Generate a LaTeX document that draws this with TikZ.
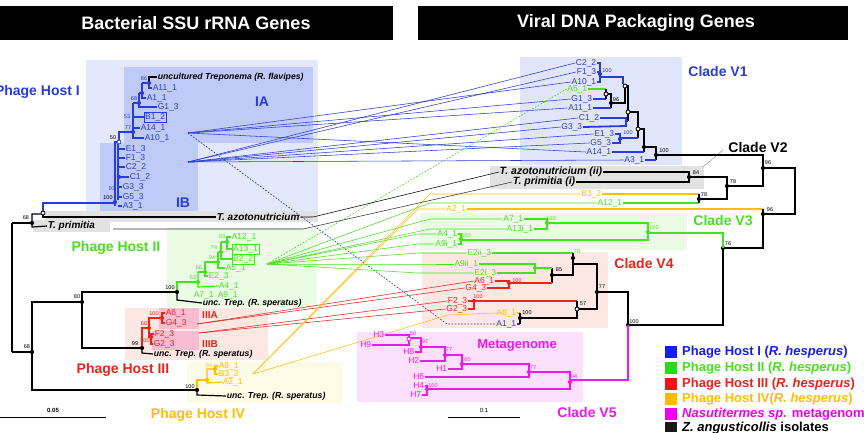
\documentclass[tikz,border=0pt]{standalone}
\usepackage{fontspec}
\setmainfont{Liberation Sans}
\pgfdeclarelayer{bg}\pgfdeclarelayer{mid}\pgfsetlayers{bg,mid,main}
\definecolor{cblue}{RGB}{40,60,220}
\definecolor{cgreen}{RGB}{70,225,30}
\definecolor{cred}{RGB}{235,35,25}
\definecolor{corange}{RGB}{255,190,0}
\definecolor{cmag}{RGB}{235,25,235}
\definecolor{bgbA}{RGB}{228,232,252}
\definecolor{bgbB}{RGB}{192,202,248}
\definecolor{bgv}{RGB}{224,229,252}
\definecolor{bggray}{RGB}{226,226,226}
\definecolor{bggreen}{RGB}{234,252,228}
\definecolor{bgred}{RGB}{252,231,226}
\definecolor{bgpink}{RGB}{250,188,208}
\definecolor{bgyel}{RGB}{253,250,230}
\definecolor{bgmag}{RGB}{252,224,252}
\definecolor{lgblue}{RGB}{20,30,240}
\definecolor{lggreen}{RGB}{40,220,20}
\definecolor{lgred}{RGB}{240,20,20}
\definecolor{lgorange}{RGB}{255,185,0}
\definecolor{lgmag}{RGB}{240,0,240}
\newcommand\supn[4]{\node[supl,text=#1] (#2) at (#3) {#4};}
\newcommand\bldot[2]{\fill[#1] (#2) circle (2.1pt);}
\newcommand\opdot[2]{\filldraw[fill=white,draw=#1,line width=0.8pt] (#2) circle (2pt);}
\begin{document}
\begin{tikzpicture}[x=1pt,y=-1pt,
 tip/.style={font=\fontsize{8.5}{9}\selectfont, inner sep=0.6pt},
 supl/.style={font=\fontsize{5.5}{6}\selectfont, inner sep=0pt},
 spec/.style={font=\bfseries\itshape\fontsize{8.7}{9}\selectfont, inner sep=0.6pt},
 clade/.style={font=\bfseries\fontsize{14}{14}\selectfont, inner sep=0pt},
 boxed/.style={draw, line width=0.35pt, inner sep=1pt},
 br/.style={line width=1.2pt},
 brt/.style={line width=1.8pt},
 conn/.style={line width=0.55pt},
 legt/.style={font=\bfseries\fontsize{13}{13}\selectfont, anchor=west, inner sep=0pt},
]
\useasboundingbox (0,0) rectangle (864,432);
\begin{pgfonlayer}{bg}
\fill[white] (0,0) rectangle (864,432);
\fill[black] (0,6) rectangle (393,40);
\fill[black] (418,6) rectangle (848,40);
\fill[bgbA] (86,60) rectangle (318,211);
\fill[bgbB] (124,67) rectangle (313,143);
\fill[bgbB] (100,143) rectangle (198,211);
\fill[bggray] (45,211) rectangle (318,222);
\fill[bggray] (33,220) rectangle (110,232);
\fill[bggreen] (167,228) rectangle (317,307);
\fill[bgred] (125,308) rectangle (268,360);
\fill[bgpink] (159,308) rectangle (199,329);
\fill[bgpink] (152,331) rectangle (199,350);
\fill[bgyel] (187,362) rectangle (343,403);
\fill[bgv] (520,57) rectangle (682,165);
\fill[bggray] (490,166) rectangle (704,189);
\fill[bggreen] (420,213) rectangle (687,250);
\fill[bgred] (422,252) rectangle (608,328);
\fill[bgmag] (357,332) rectangle (583,402);
\end{pgfonlayer}

% titles
\node[font=\bfseries\fontsize{18}{18}\selectfont, text=white] (t1) at (196,23) {Bacterial SSU rRNA Genes};
\node[font=\bfseries\fontsize{18}{18}\selectfont, text=white] (t2) at (636,23) {Viral DNA Packaging Genes};

% clade labels
\node[clade, text=cblue, anchor=east] (lh1) at (80,92) {Phage Host I};
\node[clade, text=cblue] (lIA) at (262,102) {IA};
\node[clade, text=cblue] (lIB) at (183,203) {IB};
\node[clade, text=cgreen] (lh2) at (116,248) {Phage Host II};
\node[clade, text=cred] (lh3) at (123,370) {Phage Host III};
\node[clade, text=corange] (lh4) at (198,415) {Phage Host IV};
\node[font=\bfseries\fontsize{10}{10}\selectfont, text=cred, inner sep=0pt] (l3a) at (210,315) {IIIA};
\node[font=\bfseries\fontsize{10}{10}\selectfont, text=cred, inner sep=0pt] (l3b) at (210,344) {IIIB};
\node[clade, text=cblue] (lv1) at (718,71) {Clade V1};
\node[clade] (lv2) at (758,147) {Clade V2};
\node[clade, text=cgreen] (lv3) at (723,220) {Clade V3};
\node[clade, text=cred] (lv4) at (644,263) {Clade V4};
\node[clade, text=cmag] (lv5) at (587,412) {Clade V5};
\node[font=\bfseries\fontsize{13}{13}\selectfont, text=cmag, inner sep=0pt] (lmeta) at (517,345) {Metagenome};
\coordinate (ldA) at (723,150); \coordinate (ldB) at (703,167);
\draw[gray, line width=0.4pt] (ldA) -- (ldB);

% ---------- left tips ----------
\node[spec, anchor=west] (lunc) at (157,77) {uncultured Treponema (R. flavipes)};
\node[tip,text=cblue,anchor=west] (lA111) at (152,88) {A11\_1};
\node[tip,text=cblue,anchor=west] (lA11) at (146,98) {A1\_1};
\node[tip,text=cblue,anchor=west] (lG13) at (157,107) {G1\_3};
\node[tip,text=cblue,anchor=west,boxed,draw=cblue] (lB12) at (144,117) {B1\_2};
\node[tip,text=cblue,anchor=west] (lA141) at (140,128) {A14\_1};
\node[tip,text=cblue,anchor=west] (lA101) at (144,138) {A10\_1};
\node[tip,text=cblue,anchor=west] (lE13) at (125,149) {E1\_3};
\node[tip,text=cblue,anchor=west] (lF13) at (125,158) {F1\_3};
\node[tip,text=cblue,anchor=west] (lC22) at (125,167) {C2\_2};
\node[tip,text=cblue,anchor=west] (lC12) at (129,177) {C1\_2};
\node[tip,text=cblue,anchor=west] (lG33) at (122,187) {G3\_3};
\node[tip,text=cblue,anchor=west] (lG53) at (122,197) {G5\_3};
\node[tip,text=cblue,anchor=west] (lA31) at (122,206) {A3\_1};
\node[spec, font=\bfseries\itshape\fontsize{10}{10}\selectfont, anchor=west] (ltazo) at (216,217) {T. azotonutricium};
\node[spec, font=\bfseries\itshape\fontsize{10}{10}\selectfont, anchor=west] (ltpri) at (47,226) {T. primitia};
\node[tip,text=cgreen,anchor=west] (lA121) at (231,237) {A12\_1};
\node[tip,text=cgreen,anchor=west,boxed,draw=cgreen] (lA131) at (232,249) {A13\_1};
\node[tip,text=cgreen,anchor=west,boxed,draw=cgreen] (lB22) at (232,259) {B2\_2};
\node[tip,text=cgreen,anchor=west] (lA51) at (225,268) {A5\_1};
\node[tip,text=cgreen,anchor=west] (lE23) at (208,276) {E2\_3};
\node[tip,text=cgreen,anchor=west] (lA41) at (218,286) {A4\_1};
\node[tip,text=cgreen,anchor=west] (lA71) at (193,295) {A7\_1};
\node[tip,text=cgreen,anchor=west] (lA91) at (217,295) {A9\_1};
\node[spec, anchor=west] (ltrep2) at (202,303) {unc. Trep. (R. speratus)};
\node[tip,text=cred,anchor=west] (lA61) at (165,313) {A6\_1};
\node[tip,text=cred,anchor=west] (lG43) at (165,323) {G4\_3};
\node[tip,text=cred,anchor=west] (lF23) at (154,334) {F2\_3};
\node[tip,text=cred,anchor=west] (lG23) at (153,344) {G2\_3};
\node[spec, anchor=west] (ltrep3) at (153,354) {unc. Trep. (R. speratus)};
\node[tip,text=corange,anchor=west] (lA81) at (218,366) {A8\_1};
\node[tip,text=corange,anchor=west] (lB32) at (218,374) {B3\_2};
\node[tip,text=corange,anchor=west] (lA21) at (222,382) {A2\_1};
\node[spec, anchor=west] (ltrep4) at (226,396) {unc. Trep. (R. speratus)};

% ---------- right tips ----------
\node[tip,text=cblue,anchor=east] (rC22) at (597,63) {C2\_2};
\node[tip,text=cblue,anchor=east] (rF13) at (597,72) {F1\_3};
\node[tip,text=cblue,anchor=east] (rA101) at (597,82) {A10\_1};
\node[tip,text=cgreen,anchor=east] (rA51) at (588,89) {A5\_1};
\node[tip,text=cblue,anchor=east] (rG13) at (593,99) {G1\_3};
\node[tip,text=cblue,anchor=east] (rA111) at (593,108) {A11\_1};
\node[tip,text=cblue,anchor=east] (rC12) at (600,118) {C1\_2};
\node[tip,text=cblue,anchor=east] (rG33) at (583,127) {G3\_3};
\node[tip,text=cblue,anchor=east] (rE13) at (615,134) {E1\_3};
\node[tip,text=cblue,anchor=east] (rG53) at (612,143) {G5\_3};
\node[tip,text=cblue,anchor=east] (rA141) at (612,152) {A14\_1};
\node[tip,text=cblue,anchor=east] (rA31) at (645,160) {A3\_1};
\node[spec, font=\bfseries\itshape\fontsize{10.5}{11}\selectfont, anchor=east] (rtazo) at (603,172) {T. azotonutricium (ii)};
\node[spec, font=\bfseries\itshape\fontsize{10.5}{11}\selectfont, anchor=east] (rtpri) at (576,182) {T. primitia (i)};
\node[tip,text=corange,anchor=east] (rB32) at (602,194) {B3\_2};
\node[tip,text=cgreen,anchor=east] (rA121) at (623,203) {A12\_1};
\node[tip,text=corange,anchor=east] (rA21) at (467,209) {A2\_1};
\node[tip,text=cgreen,anchor=east] (rA71) at (524,219) {A7\_1};
\node[tip,text=cgreen,anchor=east] (rA13i) at (534,229) {A13i\_1};
\node[tip,text=cgreen,anchor=east] (rA41) at (458,234) {A4\_1};
\node[tip,text=cgreen,anchor=east] (rA9i) at (458,244) {A9i\_1};
\node[tip,text=cgreen,anchor=east] (rE2ii) at (492,253) {E2ii\_3};
\node[tip,text=cgreen,anchor=east] (rA9ii) at (479,264) {A9ii\_1};
\node[tip,text=cgreen,anchor=east] (rE2i) at (497,273) {E2i\_3};
\node[tip,text=cred,anchor=east] (rA61) at (495,281) {A6\_1};
\node[tip,text=cred,anchor=east] (rG43) at (487,288) {G4\_3};
\node[tip,text=cred,anchor=east] (rF23) at (468,301) {F2\_3};
\node[tip,text=cred,anchor=east] (rG23) at (468,309) {G2\_3};
\node[tip,text=corange,anchor=east] (rA81) at (517,313) {A8\_1};
\node[tip,text=cblue,anchor=east] (rA11) at (517,324) {A1\_1};
\node[tip,text=cmag,anchor=east] (rH3) at (385,335) {H3};
\node[tip,text=cmag,anchor=east] (rH9) at (372,345) {H9};
\node[tip,text=cmag,anchor=east] (rH8) at (415,352) {H8};
\node[tip,text=cmag,anchor=east] (rH2) at (420,361) {H2};
\node[tip,text=cmag,anchor=east] (rH1) at (448,369) {H1};
\node[tip,text=cmag,anchor=east] (rH6) at (425,377) {H6};
\node[tip,text=cmag,anchor=east] (rH4) at (425,386) {H4};
\node[tip,text=cmag,anchor=east] (rH7) at (422,395) {H7};

% ---------- connectors ----------
\coordinate (IA) at (188,133); \coordinate (IB) at (188,162);
\coordinate (G2) at (267,264); \coordinate (R3A) at (197,324);
\coordinate (R3B) at (199,333); \coordinate (O4) at (253,374);
\coordinate (tazoS) at (313,217); \coordinate (tpriS) at (113,229);
\coordinate (tpriB) at (303,229);
\coordinate (bk) at (430,0); \coordinate (bk2) at (418,0);
\coordinate (a1b) at (447,324); \coordinate (a8b) at (448,315);
\begin{pgfonlayer}{mid}
\foreach \t in {rA101,rG13,rA111,rA141} \draw[conn,cblue] (IA) -- (\t.west);
\foreach \t in {rC22,rF13,rC12,rG33,rE13,rG53,rA31} \draw[conn,cblue] (IB) -- (\t.west);
\draw[cblue,line width=0.7pt,dash pattern=on 1.6pt off 1.6pt] (IA) -- (a1b) -- (rA11.west);
\draw[cgreen,line width=0.7pt,dash pattern=on 1.6pt off 1.6pt] (G2) -- (rA51.west);
\foreach \t in {rA121,rA71,rA13i} \draw[conn,cgreen] (G2) -- (bk |- \t.west) -- (\t.west);
\foreach \t in {rA41,rA9i,rE2ii,rA9ii,rE2i} \draw[conn,cgreen] (G2) -- (bk2 |- \t.west) -- (\t.west);
\draw[conn,cred] (R3A) -- (rA61.west); \draw[conn,cred] (R3A) -- (rG43.west);
\draw[conn,cred] (R3B) -- (rF23.west); \draw[conn,cred] (R3B) -- (rG23.west);
\draw[conn,corange] (O4) -- (bk |- rB32.west) -- (rB32.west);
\draw[conn,corange] (O4) -- (bk2 |- rA21.west) -- (rA21.west);
\draw[conn,corange] (O4) -- (a8b) -- (rA81.west);
\draw[conn] (ltazo.east) -- (tazoS) -- (rtazo.west);
\draw[conn,black!80] (tpriS) -- (tpriB) -- (rtpri.west);
\end{pgfonlayer}

% ---------- left tree ----------
\draw[br] (12,223) -- (12,352);
\draw[br] (12,223) -- (32,223);
\draw[br] (12,352) -- (32,352);
\draw[br] (43,214) -- (32,214) -- (32,227) -- (ltpri.west);
\draw[br] (43,214) -- (43,217) -- (ltazo.west);
\draw[br,cblue] (43,212) -- (43,203) -- (115,203);
\draw[br] (82,302) -- (32,302) -- (32,390) -- (197,390);
\draw[br] (177,292) -- (82,292) -- (82,348) -- (142,348);
\draw[br] (177,292) -- (177,300) -- (ltrep2.west);
\draw[br,cgreen] (177,292) -- (177,282) -- (198,282);
\draw[br,cred] (142,348) -- (142,328) -- (149,328);
\draw[br] (142,348) -- (142,353) -- (ltrep3.west);
\draw[br,corange] (197,390) -- (197,380) -- (207,380);
\draw[br] (197,390) -- (197,395) -- (ltrep4.west);
% phage host I
\draw[br,cblue] (115,206) -- (115,142) -- (119,142);
\draw[br,cblue] (118,142) -- (118,200);
\foreach \t in {lE13,lF13,lC22,lC12,lG33,lG53,lA31} \draw[br,cblue] (118,0 |- \t.west) -- (\t.west);
\draw[br,cblue] (119,142) -- (119,132) -- (133,132);
\draw[br,cblue] (133,103) -- (133,138) -- (lA101.west);
\draw[br,cblue] (133,103) -- (139,103);
\draw[br,cblue] (133,117) -- (lB12.west);
\draw[br,cblue] (133,128) -- (lA141.west);
\draw[br,cblue] (139,93) -- (139,107) -- (lG13.west);
\draw[br,cblue] (139,93) -- (142,93);
\draw[br,cblue] (142,83) -- (142,98) -- (lA11.west);
\draw[br,cblue] (142,83) -- (149,83) -- (149,88) -- (lA111.west);
\draw[br] (149,83) -- (149,77) -- (lunc.west);
% phage host II
\draw[br,cgreen] (198,272) -- (198,287) -- (lA41.west);
\draw[br,cgreen] (198,272) -- (205,272);
\draw[br,cgreen] (205,262) -- (205,276) -- (lE23.west);
\draw[br,cgreen] (205,262) -- (218,262);
\draw[br,cgreen] (218,252) -- (218,268) -- (lA51.west);
\draw[br,cgreen] (218,252) -- (221,252);
\draw[br,cgreen] (221,242) -- (221,259) -- (lB22.west);
\draw[br,cgreen] (221,242) -- (227,242);
\draw[br,cgreen] (lA121.west) -- (227,237) -- (227,249) -- (lA131.west);
% phage host III
\draw[br,cred] (162,318) -- (149,318) -- (149,338);
\draw[br,cred] (lA61.west) -- (162,313) -- (162,323) -- (lG43.west);
\draw[br,cred] (lF23.west) -- (151,334) -- (151,344) -- (lG23.west);
% phage host IV
\draw[br,corange] (lA21.west) -- (207,383) -- (207,369) -- (215,369);
\draw[br,corange] (lA81.west) -- (215,366) -- (215,374) -- (lB32.west);
% dots left
\bldot{black}{32,223} \bldot{black}{32,352} \bldot{black}{82,302}
\bldot{black}{177,292} \bldot{black}{142,348} \bldot{black}{197,390}
\opdot{black}{43,213}
\bldot{cblue}{115,202} \bldot{cblue}{119,177} \opdot{cblue}{119,142}
\bldot{cblue}{133,132} \bldot{cblue}{139,103} \bldot{cblue}{142,93} \bldot{cblue}{149,83}
\bldot{cgreen}{198,282} \bldot{cgreen}{205,272} \bldot{cgreen}{218,262} \bldot{cgreen}{221,252} \bldot{cgreen}{227,242}
\bldot{cred}{149,328} \bldot{cred}{162,318} \bldot{cred}{151,337}
\bldot{corange}{207,380} \bldot{corange}{215,369}
% supports left
\supn{cblue}{s1}{144,79}{86}
\supn{cblue}{s2}{134,99}{68}
\supn{cblue}{s3}{127,117}{53}
\supn{cblue}{s4}{128,128}{77}
\supn{black}{s5}{113,138}{50}
\supn{cblue}{s6}{112,189}{93}
\supn{black}{s7}{108,198}{100}
\supn{black}{s8}{26,218}{68}
\supn{black}{s9}{27,347}{68}
\supn{black}{s10}{77,297}{80}
\supn{black}{s11}{170,288}{100}
\supn{cgreen}{s12}{222,237}{93}
\supn{cgreen}{s13}{214,248}{74}
\supn{cgreen}{s14}{212,258}{94}
\supn{cgreen}{s15}{199,268}{86}
\supn{cgreen}{s16}{193,278}{63}
\supn{cred}{s17}{154,314}{100}
\supn{cred}{s18}{144,324}{68}
\supn{cred}{s19}{145,341}{100}
\supn{black}{s20}{135,344}{99}
\supn{corange}{s21}{209,366}{94}
\supn{black}{s22}{190,387}{100}

% ---------- right tree: V1 ----------
\draw[brt,cblue] (rC22.east) -- (600,63) -- (600,77) -- (623,77) -- (623,84);
\draw[brt,cblue] (rF13.east) -- (600,72);
\draw[brt,cblue] (rA101.east) -- (600,82) -- (600,77);
\draw[br,cgreen] (rA51.east) -- (606,89);
\draw[brt,cblue] (rG13.east) -- (606,99);
\draw[br] (606,89) -- (606,99);
\draw[br] (606,94) -- (611,94) -- (611,108);
\draw[brt,cblue] (rA111.east) -- (611,108);
\draw[br] (611,103) -- (625,103) -- (625,86) -- (628,86) -- (628,121);
\draw[brt,cblue] (rC12.east) -- (626,118) -- (626,126) -- (rG33.east);
\draw[brt,cblue] (626,121) -- (628,121);
\draw[br] (628,112) -- (638,112) -- (638,138);
\draw[brt,cblue] (rE13.east) -- (620,134) -- (620,143) -- (rG53.east);
\draw[brt,cblue] (620,138) -- (638,138);
\draw[br] (638,129) -- (644,129) -- (644,152);
\draw[brt,cblue] (rA141.east) -- (644,152);
\draw[br] (644,147) -- (656,147) -- (656,160);
\draw[brt,cblue] (rA31.east) -- (656,160);
\draw[br] (656,155) -- (763,155) -- (763,186) -- (727,186);
\bldot{cblue}{600,74} \opdot{black}{606,94} \bldot{black}{611,103}
\opdot{black}{625,86} \opdot{black}{628,112} \opdot{black}{638,129}
\bldot{cblue}{620,139} \bldot{black}{644,147} \bldot{black}{656,155}
% V2
\draw[br] (rtazo.east) -- (689,172) -- (689,182) -- (rtpri.east);
\draw[br] (689,177) -- (727,177) -- (727,199) -- (699,199);
\draw[br,corange] (rB32.east) -- (699,194);
\draw[br,cgreen] (rA121.east) -- (699,203);
\draw[br] (699,194) -- (699,203);
\draw[br] (763,168) -- (795,168) -- (795,214) -- (763,214);
\draw[br,corange] (rA21.east) -- (763,209);
\draw[br] (763,209) -- (763,248) -- (723,248);
\bldot{black}{689,177} \bldot{black}{699,199} \bldot{black}{727,186}
\bldot{black}{763,168} \bldot{black}{763,214} \bldot{black}{723,248}
% V3
\draw[br,cgreen] (723,248) -- (723,233) -- (648,233);
\draw[br,cgreen] (547,223) -- (648,223) -- (648,240) -- (461,240);
\draw[br,cgreen] (rA71.east) -- (547,219) -- (547,229) -- (rA13i.east);
\draw[br,cgreen] (rA41.east) -- (461,234) -- (461,244) -- (rA9i.east);
\draw[br] (723,248) -- (723,325) -- (628,325);
\bldot{cgreen}{648,232} \bldot{cgreen}{547,223} \bldot{cgreen}{461,239}
% V4
\draw[br,cgreen] (rE2ii.east) -- (573,253);
\draw[br] (573,253) -- (573,275) -- (552,275);
\draw[br] (552,268) -- (552,283);
\draw[br,cgreen] (rA9ii.east) -- (535,264) -- (535,273) -- (rE2i.east);
\draw[br,cgreen] (535,268) -- (552,268);
\draw[br,cred] (rA61.east) -- (509,281) -- (509,288) -- (rG43.east);
\draw[br,cred] (509,283) -- (552,283);
\draw[br] (573,264) -- (597,264) -- (597,309) -- (577,309);
\draw[br] (597,292) -- (628,292) -- (628,325);
\draw[br,cred] (rF23.east) -- (474,301) -- (577,301);
\draw[br,cred] (474,301) -- (474,309) -- (rG23.east);
\draw[br] (577,301) -- (577,318) -- (520,318);
\draw[br,corange] (rA81.east) -- (520,313);
\draw[br,cblue] (rA11.east) -- (520,324);
\draw[br] (520,313) -- (520,324);
\bldot{cgreen}{535,268} \bldot{cred}{509,283} \bldot{black}{552,275} \bldot{black}{573,258}
\bldot{cred}{474,301} \bldot{black}{520,318} \opdot{black}{577,309} \bldot{black}{597,292}
\bldot{black}{628,325}
% V5
\draw[br,cmag] (628,325) -- (628,380) -- (570,380);
\draw[br,cmag] (529,372) -- (570,372) -- (570,389) -- (427,389);
\draw[br,cmag] (rH6.east) -- (529,377) -- (529,364) -- (462,364);
\draw[br,cmag] (rH1.east) -- (462,369) -- (462,355) -- (445,355);
\draw[br,cmag] (rH2.east) -- (445,361) -- (445,347) -- (421,347);
\draw[br,cmag] (rH8.east) -- (421,352) -- (421,338) -- (409,338);
\draw[br,cmag] (rH3.east) -- (409,335) -- (409,345) -- (rH9.east);
\draw[br,cmag] (rH4.east) -- (427,386) -- (427,395) -- (rH7.east);
\bldot{cmag}{570,382} \bldot{cmag}{529,372} \bldot{cmag}{462,364} \bldot{cmag}{445,355}
\bldot{cmag}{421,347} \opdot{cmag}{409,339} \bldot{cmag}{427,389}
% supports right
\supn{cblue}{r1}{607,71}{100}
\supn{black}{r2}{616,100}{96}
\supn{cblue}{r3}{628,133}{100}
\supn{black}{r4}{664,151}{100}
\supn{black}{r5}{696,173}{84}
\supn{black}{r6}{733,182}{78}
\supn{black}{r7}{704,195}{78}
\supn{black}{r8}{768,163}{96}
\supn{black}{r9}{770,210}{96}
\supn{black}{r10}{728,244}{76}
\supn{cgreen}{r11}{551,219}{100}
\supn{cgreen}{r12}{466,236}{100}
\supn{cgreen}{r13}{654,228}{100}
\supn{cgreen}{r14}{577,252}{78}
\supn{black}{r15}{559,270}{85}
\supn{cred}{r16}{517,281}{100}
\supn{cred}{r17}{478,297}{100}
\supn{black}{r18}{583,304}{57}
\supn{black}{r19}{602,287}{77}
\supn{black}{r20}{527,313}{100}
\supn{black}{r21}{634,322}{100}
\supn{cmag}{r22}{413,334}{50}
\supn{cmag}{r23}{425,342}{97}
\supn{cmag}{r24}{449,350}{77}
\supn{cmag}{r25}{466,360}{100}
\supn{cmag}{r26}{533,368}{77}
\supn{cmag}{r27}{574,377}{94}
\supn{cmag}{r28}{433,386}{100}

% scale bars
\draw[line width=1pt] (0,417) -- (106,417);
\node[font=\bfseries\fontsize{6}{6}\selectfont, inner sep=0pt] (sc1) at (53,410) {0.05};
\draw[line width=1pt] (448,417) -- (520,417);
\node[font=\fontsize{6}{6}\selectfont, inner sep=0pt] (sc2) at (484,410) {0.1};

% legend
\fill[lgblue] (665,346) rectangle (677,358);
\fill[lggreen] (665,362) rectangle (677,374);
\fill[lgred] (665,378) rectangle (677,390);
\fill[lgorange] (665,393) rectangle (677,405);
\fill[lgmag] (665,408) rectangle (677,420);
\fill[black!90] (665,422) rectangle (677,432);
\node[legt, text=lgblue] (g1) at (682,352) {Phage Host I (\textit{R. hesperus})};
\node[legt, text=cgreen] (g2) at (682,368) {Phage Host II (\textit{R. hesperus})};
\node[legt, text=cred] (g3) at (682,384) {Phage Host III (\textit{R. hesperus})};
\node[legt, text=corange] (g4) at (682,399) {Phage Host IV(\textit{R. hesperus})};
\node[legt, text=lgmag] (g5) at (682,414) {\textit{Nasutitermes sp.} metagenome};
\node[legt, text=black] (g6) at (682,428) {\textit{Z. angusticollis} isolates};
\end{tikzpicture}
\end{document}
